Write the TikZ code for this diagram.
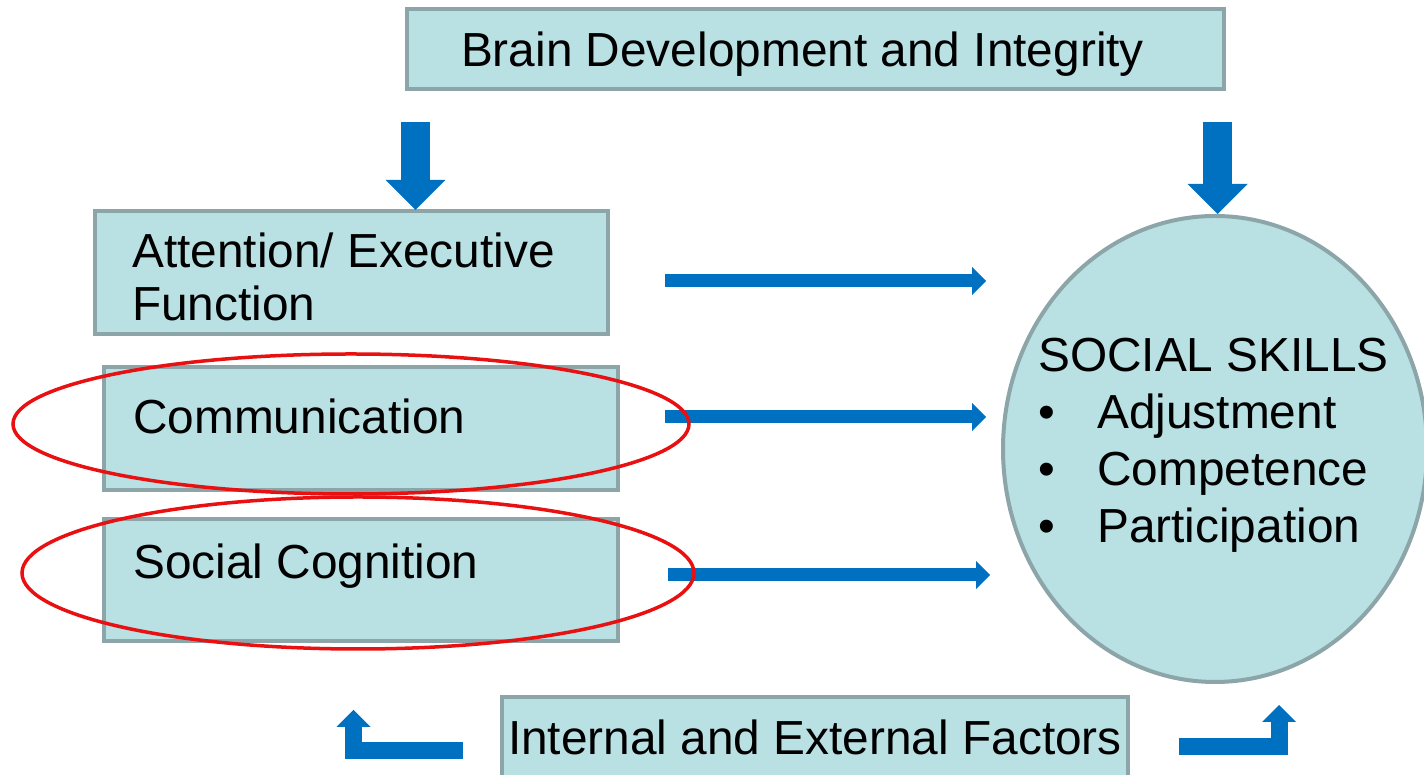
\documentclass[tikz,border=0pt]{standalone}
\usepackage{fontspec}
\setmainfont{Liberation Sans}
\usetikzlibrary{arrows.meta,shapes.geometric}
\definecolor{boxfill}{RGB}{185,224,227}
\definecolor{boxline}{RGB}{140,165,168}
\definecolor{flowblue}{RGB}{0,112,192}
\definecolor{markred}{RGB}{232,16,16}
\begin{document}
\begin{tikzpicture}[x=1pt,y=1pt,
	box/.style={draw=boxline, fill=boxfill, line width=4pt, inner sep=0pt,
		font=\fontsize{47.8}{53}\selectfont, text depth=0pt},
	lbl/.style={font=\fontsize{47.8}{53}\selectfont, inner sep=0pt, align=left},
	ring/.style={ellipse, draw=markred, line width=3.5pt, inner sep=0pt},
	bigarrow/.style={draw=flowblue, line width=29pt,
		-{Triangle[width=60pt,length=30pt,line width=0pt]}},
	flowarrow/.style={draw=flowblue, line width=13pt,
		-{Triangle[width=28pt,length=14pt,line width=0pt]}},
	bentarrow/.style={draw=flowblue, line width=17pt,
		-{Triangle[width=34pt,length=17pt,line width=0pt]}}]
	\useasboundingbox (0,0) rectangle (1424,775);

	\node[box, minimum width=817pt, minimum height=80pt] (brain) at (815.5,726) {};
	\node[box, minimum width=513pt, minimum height=123pt] (attn) at (351.5,502.5) {};
	\node[box, minimum width=514pt, minimum height=123pt] (comm) at (361,346.5) {};
	\node[box, minimum width=514pt, minimum height=122pt] (soccog) at (361,195) {};
	\node[box, minimum width=626pt, minimum height=80pt] (factors) at (815,38) {Internal and External Factors};
	\node[ellipse, draw=boxline, fill=boxfill, line width=4pt, inner sep=0pt,
		minimum width=424pt, minimum height=466pt] (skills) at (1215,326) {};

	\node[lbl, anchor=base] (braintxt) at ([xshift=-13pt,yshift=-18pt]brain.center) {Brain Development and Integrity};
	\node[lbl, anchor=west] (attntxt) at ([xshift=39pt,yshift=-4.5pt]attn.west) {Attention/ Executive\\Function};
	\node[lbl, anchor=base west] (commtxt) at ([xshift=31pt,yshift=-5.5pt]comm.west) {Communication};
	\node[lbl, anchor=base west] (soccogtxt) at ([xshift=31pt,yshift=1pt]soccog.west) {Social Cognition};
	\node[lbl, anchor=west, font=\fontsize{47.8}{57}\selectfont] (skillstxt) at (1038,329.5)
		{SOCIAL SKILLS\\\makebox[59pt][l]{\textbullet}Adjustment\\\makebox[59pt][l]{\textbullet}Competence\\\makebox[59pt][l]{\textbullet}Participation};

	\coordinate (brainl) at (415.5,653);
	\coordinate (brainr) at (1217.5,653);
	\draw[bigarrow] (brainl) -- ([yshift=-1pt]brainl |- attn.north);
	\draw[bigarrow] (brainr) -- (brainr |- skills.north);

	\draw[flowarrow] ([xshift=55pt,yshift=-8.5pt]attn.east) -- ([xshift=-15pt,yshift=-8.5pt]attn.east -| skills.west);
	\draw[flowarrow] ([xshift=45pt,yshift=11.5pt]comm.east) -- ([xshift=-15pt,yshift=11.5pt]comm.east -| skills.west);
	\draw[flowarrow] ([xshift=48pt,yshift=5pt]soccog.east) -- ([xshift=-11pt,yshift=5pt]soccog.east -| skills.west);

	\coordinate (backstart) at (463,24);
	\coordinate (backend) at (353.5,65);
	\coordinate (fwdstart) at (1179,28);
	\coordinate (fwdend) at (1279,70);
	\draw[bentarrow] (backstart) -| (backend);
	\draw[bentarrow] (fwdstart) -| (fwdend);

	\node[ring, minimum width=676pt, minimum height=140pt] (commring) at (351,351) {};
	\node[ring, minimum width=672pt, minimum height=152pt] (soccogring) at (358,202) {};
\end{tikzpicture}
\end{document}
